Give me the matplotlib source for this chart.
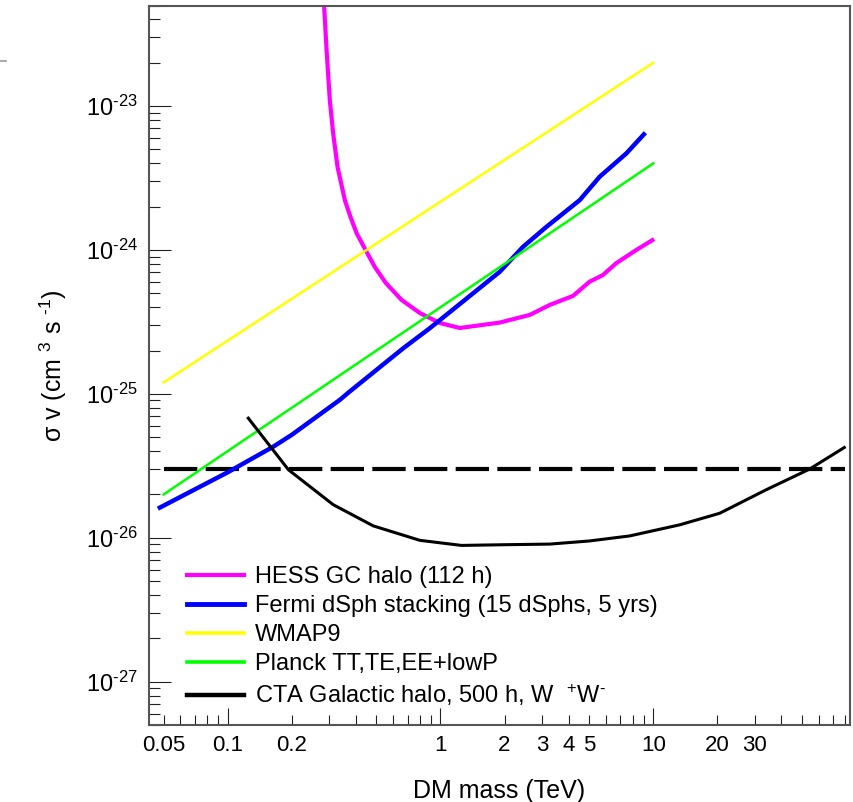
import numpy as np
import matplotlib
matplotlib.use('Agg')
import matplotlib.pyplot as plt
from matplotlib.lines import Line2D
from matplotlib.ticker import FixedLocator, FuncFormatter, NullFormatter

plt.rcParams['font.family'] = ['Liberation Sans', 'DejaVu Sans']
plt.rcParams['mathtext.fontset'] = 'custom'
plt.rcParams['mathtext.rm'] = 'Liberation Sans'
plt.rcParams['mathtext.it'] = 'Liberation Sans:italic'
plt.rcParams['mathtext.bf'] = 'Liberation Sans:bold'

# limits (TeV, cm^3 s^-1)
hess_mass = [0.282, 0.2916, 0.302, 0.313, 0.3284, 0.3554, 0.378, 0.4034, 0.4445, 0.4914,
             0.5535, 0.656, 0.7995, 0.992, 1.232, 1.9, 2.63, 3.26, 4.2, 5.02, 5.8, 6.7, 8.32, 9.9]
hess_sv = [6e-23, 2.45e-23, 1.1e-23, 6.49e-24, 3.77e-24, 2.22e-24, 1.69e-24, 1.31e-24, 1e-24, 7.62e-25,
           5.9e-25, 4.5e-25, 3.65e-25, 3.11e-25, 2.87e-25, 3.13e-25, 3.54e-25, 4.15e-25, 4.8e-25,
           6.02e-25, 6.7e-25, 8.1e-25, 1e-24, 1.17e-24]

fermi_mass = [0.048, 0.1, 0.164, 0.2, 0.337, 0.375, 0.667, 0.891, 1.9, 2.44, 3.15,
              4.51, 5.6, 7.47, 9.03]
fermi_sv = [1.62e-26, 2.85e-26, 4.3e-26, 5.19e-26, 9.1e-26, 1.04e-25, 2.07e-25, 2.86e-25, 7.06e-25,
            1.05e-24, 1.45e-24, 2.22e-24, 3.23e-24, 4.69e-24, 6.36e-24]

wmap_mass = [0.05, 10]
wmap_sv = [1.2e-25, 2e-23]

planck_mass = [0.05, 10]
planck_sv = [2e-26, 4e-24]

cta_mass = [0.125, 0.193, 0.313, 0.483, 0.8, 1.255, 2.0, 3.26, 5.0, 7.74, 13.3, 20.5, 34, 54.2, 79]
cta_sv = [6.78e-26, 2.97e-26, 1.7e-26, 1.21e-26, 9.6e-27, 8.85e-27, 8.95e-27, 9.04e-27, 9.5e-27,
          1.03e-26, 1.23e-26, 1.48e-26, 2.16e-26, 3e-26, 4.24e-26]

thermal_mass = [0.05, 80]
thermal_sv = [3e-26, 3e-26]

xtick_labels = {0.05: '0.05', 0.1: '0.1', 0.2: '0.2', 1: '1', 2: '2', 3: '3', 4: '4',
                5: '5', 10: '10', 20: '20', 30: '30'}

fig, ax = plt.subplots(figsize=(8.54, 8.02), dpi=100)
fig.subplots_adjust(left=149/854, right=850/854, top=1-5.5/802, bottom=1-725/802)

ax.plot(thermal_mass, thermal_sv, color='black', lw=3, dashes=(8, 2))
ax.plot(hess_mass, hess_sv, color='#ff00ff', lw=3, label='HESS GC halo (112 h)')
ax.plot(fermi_mass, fermi_sv, color='#0000ff', lw=3.2, label='Fermi dSph stacking (15 dSphs, 5 yrs)')
ax.plot(wmap_mass, wmap_sv, color='#ffff00', lw=1.8, label='WMAP9')
ax.plot(planck_mass, planck_sv, color='#00ff00', lw=1.8, label='Planck TT,TE,EE+lowP')
ax.plot(cta_mass, cta_sv, color='black', lw=2.2, label=r'CTA Galactic halo, 500 h, W  $^{+}$W$^{\text{-}}$')

ax.set_xscale('log')
ax.set_yscale('log')
ax.set_xlim(0.0427, 84)
ax.set_ylim(5e-28, 5e-23)

# x ticks: long ones at decades, labels on a few of the short ones
ax.xaxis.set_major_locator(FixedLocator([0.1, 1, 10]))
minors = [s * 10.0**e for e in range(-2, 2) for s in range(2, 10)]
ax.xaxis.set_minor_locator(FixedLocator(minors))

def xfmt(v, pos):
    for k, lab in xtick_labels.items():
        if abs(v - k) < 1e-6 * k:
            return lab
    return ''

ax.xaxis.set_major_formatter(FuncFormatter(xfmt))
ax.xaxis.set_minor_formatter(FuncFormatter(xfmt))

ax.yaxis.set_major_locator(FixedLocator([10.0**e for e in range(-27, -22)]))
ax.yaxis.set_minor_locator(FixedLocator([s * 10.0**e for e in range(-28, -22) for s in range(2, 10)]))
ax.yaxis.set_major_formatter(FuncFormatter(lambda v, p: r'$10^{\text{-%d}}$' % -round(np.log10(v))))
ax.yaxis.set_minor_formatter(NullFormatter())

ax.tick_params(which='both', direction='in', top=False, right=False, width=0.8, color='#222222')
ax.tick_params(axis='x', which='major', length=12, labelsize=16, pad=7)
ax.tick_params(axis='x', which='minor', length=7, labelsize=16, pad=7)
ax.tick_params(axis='y', which='major', length=16, labelsize=17, pad=8)
ax.tick_params(axis='y', which='minor', length=8)

for sp in ax.spines.values():
    sp.set_color('#555555')
    sp.set_linewidth(1.5)

ax.set_xlabel('DM mass (TeV)', fontsize=18, labelpad=17)
ax.set_ylabel(r'σ v (cm $^{3}$ s $^{\text{-1}}$)', fontsize=18, labelpad=12)

leg = ax.legend(loc='upper left', bbox_to_anchor=(0.054, 0.221), frameon=False, fontsize=17,
                handlelength=2.4, handletextpad=0.5, labelspacing=0.3, borderpad=0, borderaxespad=0)
for h, w in zip(leg.get_lines(), [3, 3.5, 2.6, 2.6, 3.2]):
    h.set_linewidth(w)

# small grey stub at top left of the original
fig.add_artist(Line2D([0, 6/854], [1-61/802, 1-61/802], color='#999999', lw=1.2))

plt.savefig('out.png', dpi=100)
